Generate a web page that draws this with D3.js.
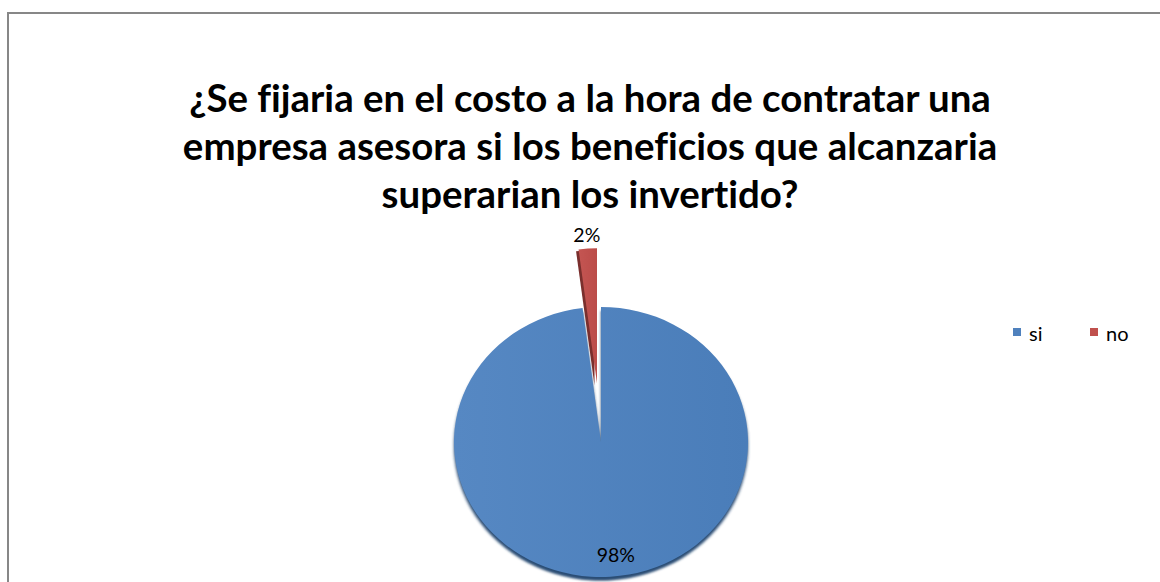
<!DOCTYPE html>
<meta charset="utf-8">
<style>
  body { margin: 0; background: #fff; }
  svg { display: block; font-family: Lato, "Open Sans", sans-serif; font-variant-ligatures: none; }
</style>
<svg id="chart" width="1160" height="582"></svg>
<script src="https://cdn.jsdelivr.net/npm/d3@7"></script>
<script>

// data
var categories = ["si", "no"];
var values = [98, 2];
var colors = ["#4F81BD", "#C0504D"];
var darkColors = ["#2c4d75", "#7a2f2d"];
var titleLines = [
    "¿Se fijaria en el costo a la hora de contratar una",
    "empresa asesora si los beneficios que alcanzaria",
    "superarian los invertido?"
];

var svg = d3.select("#chart");

var cx = 601, cy = 442,
    rx = 147, ry = 135,
    explode = 64;   // how far the "no" slice is pulled out

// chart frame (only top/left edge visible in the picture)
svg.append("rect")
    .attr("x", 8).attr("y", 13)
    .attr("width", 1200).attr("height", 700)
    .attr("fill", "none")
    .attr("stroke", "#878787")
    .attr("stroke-width", 2);

// title
var title = svg.append("text")
    .attr("text-anchor", "middle")
    .attr("font-weight", "bold")
    .attr("fill", "#000");
title.selectAll("tspan")
    .data(titleLines)
    .join("tspan")
    .attr("x", 590)
    .attr("y", function(d, i) { return 112 + i * 48; })
    .text(function(d) { return d; });

// fit the first line to the width it has in the picture (~802px)
title.attr("font-size", 33);
var w = title.select("tspan").node().getComputedTextLength();
title.attr("font-size", 33 * 802 / w);

// gradient for the blue slice
var defs = svg.append("defs");
var grad = defs.append("linearGradient")
    .attr("id", "gBlue")
    .attr("x1", "0%").attr("x2", "100%")
    .attr("y1", "0%").attr("y2", "0%");
grad.append("stop").attr("offset", "0%").attr("stop-color", "#5688c3");
grad.append("stop").attr("offset", "100%").attr("stop-color", "#4a7db9");
var gradR = defs.append("linearGradient")
    .attr("id", "gRed")
    .attr("x1", "0%").attr("x2", "100%");
gradR.append("stop").attr("offset", "0%").attr("stop-color", "#c45552");
gradR.append("stop").attr("offset", "100%").attr("stop-color", "#bb4c49");
var fills = ["url(#gBlue)", "url(#gRed)"];

defs.append("filter").attr("id", "soft")
    .append("feGaussianBlur").attr("stdDeviation", 1.4);

var pie = d3.pie().sort(null).value(function(d) { return d; });
var arcs = pie(values);

var arc = d3.arc().innerRadius(0).outerRadius(rx);

function offset(d, i) {
    if (i === 0) return [0, 0];
    var a = (d.startAngle + d.endAngle) / 2;
    return [Math.sin(a) * explode, -Math.cos(a) * explode];
}

// pie is squashed a little in y (tilted look)
var g = svg.append("g")
    .attr("transform", "translate(" + cx + "," + cy + ") scale(1," + (ry / rx) + ")");

// dark rim / side faces
g.selectAll("path.rim")
    .data(arcs)
    .join("path")
    .attr("class", "rim")
    .attr("d", arc)
    .attr("fill", function(d, i) { return darkColors[i]; })
    .attr("filter", function(d, i) { return i === 0 ? "url(#soft)" : null; })
    .attr("transform", function(d, i) {
        var o = offset(d, i);
        var dx = i === 0 ? 0 : -2.5;
        var dy = i === 0 ? 4 : 2;
        return "translate(" + (o[0] + dx) + "," + (o[1] + dy) + ")";
    });

g.selectAll("path.slice")
    .data(arcs)
    .join("path")
    .attr("class", "slice")
    .attr("d", arc)
    .attr("fill", function(d, i) { return fills[i]; })
    .attr("transform", function(d, i) {
        var o = offset(d, i);
        return "translate(" + o[0] + "," + o[1] + ")";
    });

// percentage labels
var total = d3.sum(values);
var labelR = [0.84, 1.1];
svg.selectAll("text.pct")
    .data(arcs)
    .join("text")
    .attr("class", "pct")
    .attr("text-anchor", "middle")
    .attr("font-size", 19.5)
    .attr("fill", "#000")
    .attr("x", function(d, i) {
        var a = (d.startAngle + d.endAngle) / 2, o = offset(d, i);
        return cx + o[0] + Math.sin(a) * rx * labelR[i] + (i === 0 ? 7 : 0);
    })
    .attr("y", function(d, i) {
        var a = (d.startAngle + d.endAngle) / 2, o = offset(d, i);
        return cy + (o[1] - Math.cos(a) * rx * labelR[i]) * ry / rx + 7;
    })
    .text(function(d) { return Math.round(d.value / total * 100) + "%"; });

// legend
var legend = svg.selectAll("g.leg")
    .data(categories)
    .join("g")
    .attr("class", "leg")
    .attr("transform", function(d, i) { return "translate(" + (1013 + i * 77) + ",328)"; });
legend.append("rect")
    .attr("width", 8).attr("height", 8)
    .attr("fill", function(d, i) { return colors[i]; });
legend.append("text")
    .attr("x", 16).attr("y", 13)
    .attr("font-size", 20)
    .attr("fill", "#000")
    .text(function(d) { return d; });

</script>
